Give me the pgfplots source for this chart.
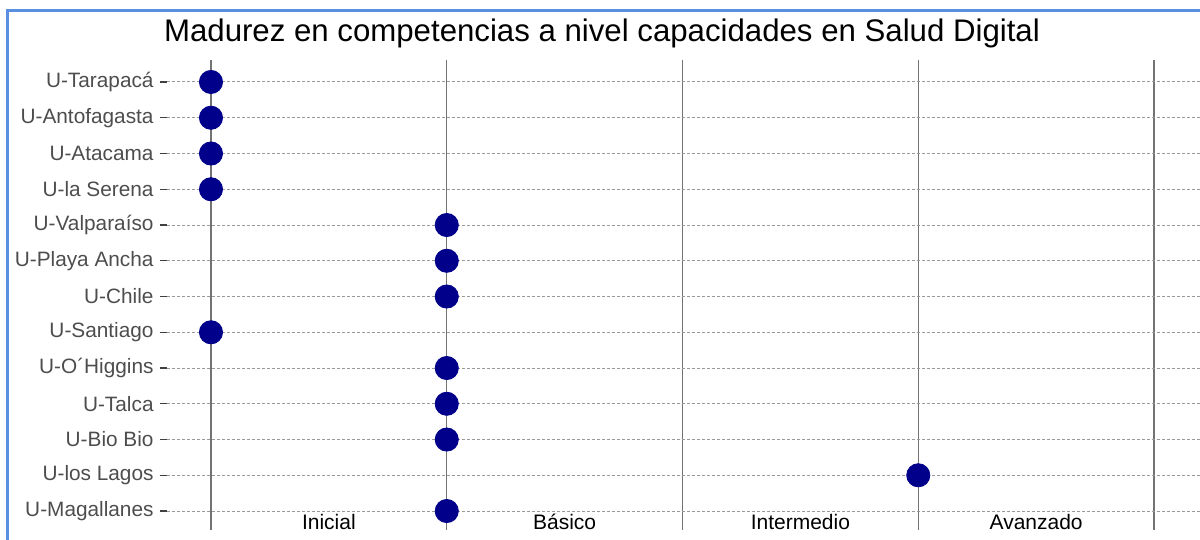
\documentclass[border=0pt]{standalone}
\usepackage{pgfplots}
\pgfplotsset{compat=1.18}
\usepackage{fontspec}
\setmainfont{Liberation Sans}
\definecolor{navydot}{RGB}{0,0,139}
\definecolor{frameblue}{RGB}{88,143,224}
\definecolor{labgray}{RGB}{77,77,77}
\begin{document}
\begin{tikzpicture}
\useasboundingbox (0,0) rectangle (600bp,-270bp);
\begin{axis}[
  at={(83.5bp,-30bp)}, anchor=north west,
  scale only axis, width=516.5bp, height=235bp,
  xmin=-0.1866, xmax=4.195,
  ymin=-0.615, ymax=12.531, y dir=reverse,
  axis line style={draw=none},
  axis on top,
  xtick={0,1,2,3,4}, xticklabels={},
  major x tick style={draw=none},
  ytick={0,...,12},
  yticklabels={U-Tarapacá,U-Antofagasta,U-Atacama,U-la Serena,U-Valparaíso,U-Playa Ancha,U-Chile,U-Santiago,U-O´Higgins,U-Talca,U-Bio Bio,U-los Lagos,U-Magallanes},
  ytick pos=left, tick align=outside,
  major tick length=3.5bp,
  major y tick style={draw=black!75, line width=0.7bp},
  yticklabel style={font=\fontsize{10.4bp}{12bp}\selectfont, text=labgray, xshift=0.3bp},
  grid=major,
  x grid style={draw=black!55, line width=0.55bp},
  y grid style={draw=black!40, line width=0.5bp, dash pattern=on 1.5bp off 1bp},
  clip=false,
]
\addplot[only marks, mark=*, mark size=5.8bp, color=navydot, mark options={draw=navydot, fill=navydot}] table {
x y
0 0
0 1
0 2
0 3
1 4
1 5
1 6
0 7
1 8
1 9
1 10
3 11
1 12
};
\node[font=\fontsize{10.5bp}{12bp}\selectfont] at (axis cs:0.5,12.31) {Inicial};
\node[font=\fontsize{10.5bp}{12bp}\selectfont] at (axis cs:1.5,12.31) {Básico};
\node[font=\fontsize{10.5bp}{12bp}\selectfont] at (axis cs:2.5,12.31) {Intermedio};
\node[font=\fontsize{10.5bp}{12bp}\selectfont] at (axis cs:3.5,12.31) {Avanzado};
\end{axis}
\node[font=\fontsize{15.6bp}{18bp}\selectfont] at (301bp,-16.5bp) {Madurez en competencias a nivel capacidades en Salud Digital};
\draw[frameblue, line width=1.5bp] (3.5bp,-270bp) -- (3.5bp,-5.25bp) -- (600bp,-5.25bp);
\end{tikzpicture}
\end{document}
